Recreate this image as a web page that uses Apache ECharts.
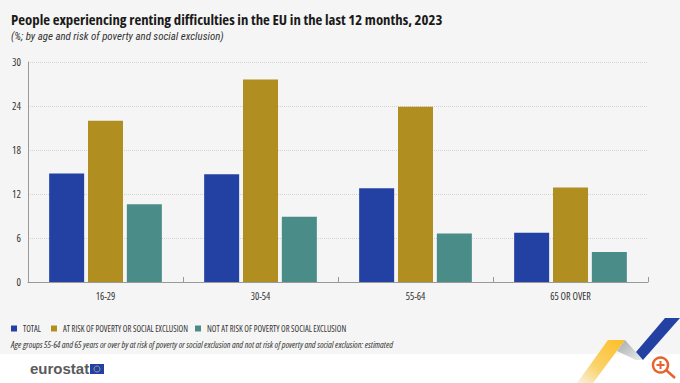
<!DOCTYPE html>
<html>
<head>
<meta charset="utf-8">
<style>
html, body { margin: 0; padding: 0; background: #fff; }
#chart { width: 680px; height: 383px; }
/* narrow cut of Open Sans, the reference uses a condensed face */
#chart text[style*="Open Sans"] { font-stretch: 75% !important; }
</style>
<script src="https://cdn.jsdelivr.net/npm/echarts@6/dist/echarts.min.js"></script>
</head>
<body>
<div id="chart"></div>
<script>
var categories = ["16-29", "30-54", "55-64", "65 OR OVER"];
var total = [14.8, 14.7, 12.8, 6.7];
var atRisk = [22.0, 27.6, 23.9, 12.9];
var notAtRisk = [10.6, 8.9, 6.6, 4.1];
var yTicks = [0, 6, 12, 18, 24, 30];
var seriesNames = ["TOTAL", "AT RISK OF POVERTY OR SOCIAL EXCLUSION", "NOT AT RISK OF POVERTY OR SOCIAL EXCLUSION"];

var cond = '"Open Sans", sans-serif';
var mychart = echarts.init(document.getElementById("chart"), null, { renderer: "svg" });

function legendAt(name, x) {
    return {
        data: [name],
        left: x, top: 324,
        padding: 0,
        itemWidth: 6, itemHeight: 6,
        icon: "rect",
        textStyle: { fontFamily: cond, fontSize: 8.5, color: "#333", padding: [0, 0, 0, 1] }
    };
}

var option = {
    backgroundColor: "#fff",
    animation: false,
    title: [
        {
            text: "People experiencing renting difficulties in the EU in the last 12 months, 2023",
            left: 11, top: 11,
            padding: 0,
            textStyle: { fontFamily: cond, fontWeight: "bold", fontSize: 14.8, color: "#1a1a1a" }
        },
        {
            text: "(%; by age and risk of poverty and social exclusion)",
            left: 11, top: 31,
            padding: 0,
            textStyle: { fontFamily: '"Roboto Condensed", sans-serif', fontStyle: "italic", fontWeight: "normal", fontSize: 10.9, color: "#333" }
        },
        {
            text: "Age groups 55-64 and 65 years or over by at risk of poverty or social exclusion and not at risk of poverty and social exclusion: estimated",
            left: 11, top: 340,
            padding: 0,
            textStyle: { fontFamily: cond, fontStyle: "italic", fontWeight: "normal", fontSize: 9, color: "#333" }
        }
    ],
    legend: [legendAt(seriesNames[0], 11), legendAt(seriesNames[1], 51), legendAt(seriesNames[2], 195)],
    grid: { left: 28, right: 32, top: 62, height: 220 },
    xAxis: {
        type: "category",
        data: categories,
        axisLine: { lineStyle: { color: "#999", width: 1 } },
        axisTick: { show: true, inside: true, length: 5, alignWithLabel: false, lineStyle: { color: "#999" } },
        axisLabel: { fontFamily: cond, fontSize: 10, color: "#333", margin: 9 }
    },
    yAxis: {
        type: "value",
        min: yTicks[0],
        max: yTicks[yTicks.length - 1],
        interval: 6,
        axisLine: { show: true, lineStyle: { color: "#999", width: 1 } },
        axisTick: { show: false },
        axisLabel: { fontFamily: cond, fontSize: 10.5, color: "#333", margin: 7 },
        splitLine: { lineStyle: { color: "#d2d2d2", type: "dotted", width: 1 } }
    },
    series: [
        { name: seriesNames[0], type: "bar", data: total, barWidth: 35, barGap: "11%", itemStyle: { color: "#2341a3" } },
        { name: seriesNames[1], type: "bar", data: atRisk, barWidth: 35, barGap: "11%", itemStyle: { color: "#b08f20" } },
        { name: seriesNames[2], type: "bar", data: notAtRisk, barWidth: 35, barGap: "11%", itemStyle: { color: "#4a8c88" } }
    ],
    graphic: [
        // grey panel behind the chart
        { type: "rect", z: -1, silent: true, shape: { x: 0, y: 0, width: 680, height: 354 }, style: { fill: "#f5f5f5" } },
        // logo
        { type: "text", left: 30, top: 361, style: { text: "eurostat", fontFamily: '"Liberation Sans", sans-serif', fontWeight: "bold", fontSize: 15, fill: "#5a5a5a" } },
        { type: "rect", shape: { x: 90, y: 364, width: 14, height: 10 }, style: { fill: "#2341a3" } },
        { type: "circle", shape: { cx: 97, cy: 369, r: 3 }, style: { fill: "none", stroke: "#c9c38a", lineWidth: 0.7 } },
        // corner ribbons
        {
            type: "polygon", shape: { points: [[577, 383], [608, 340], [625, 340], [593, 383]] },
            style: { fill: new echarts.graphic.LinearGradient(1, 0, 0, 1, [{ offset: 0, color: "#fbbf24" }, { offset: 0.6, color: "#fbd26a" }, { offset: 1, color: "#f7f2e4" }]) }
        },
        {
            type: "polygon", shape: { points: [[617, 351], [625, 340], [643, 360], [636, 360]] },
            style: { fill: new echarts.graphic.LinearGradient(0, 0, 1, 1, [{ offset: 0, color: "#a5a7aa" }, { offset: 1, color: "#eceded" }]) }
        },
        {
            type: "polygon", shape: { points: [[636, 352], [665, 318], [680, 318], [643, 360]] },
            style: { fill: "#2341a3" }
        },
        // magnifier icon
        { type: "circle", shape: { cx: 660.5, cy: 365, r: 7.5 }, style: { fill: "none", stroke: "#e8622c", lineWidth: 2.5 } },
        { type: "line", shape: { x1: 666, y1: 370, x2: 675, y2: 378 }, style: { stroke: "#e8622c", lineWidth: 2.5 } },
        { type: "line", shape: { x1: 656.5, y1: 365, x2: 664.5, y2: 365 }, style: { stroke: "#e8622c", lineWidth: 2 } },
        { type: "line", shape: { x1: 660.5, y1: 361, x2: 660.5, y2: 369 }, style: { stroke: "#e8622c", lineWidth: 2 } }
    ]
};
mychart.setOption(option);
</script>
</body>
</html>
